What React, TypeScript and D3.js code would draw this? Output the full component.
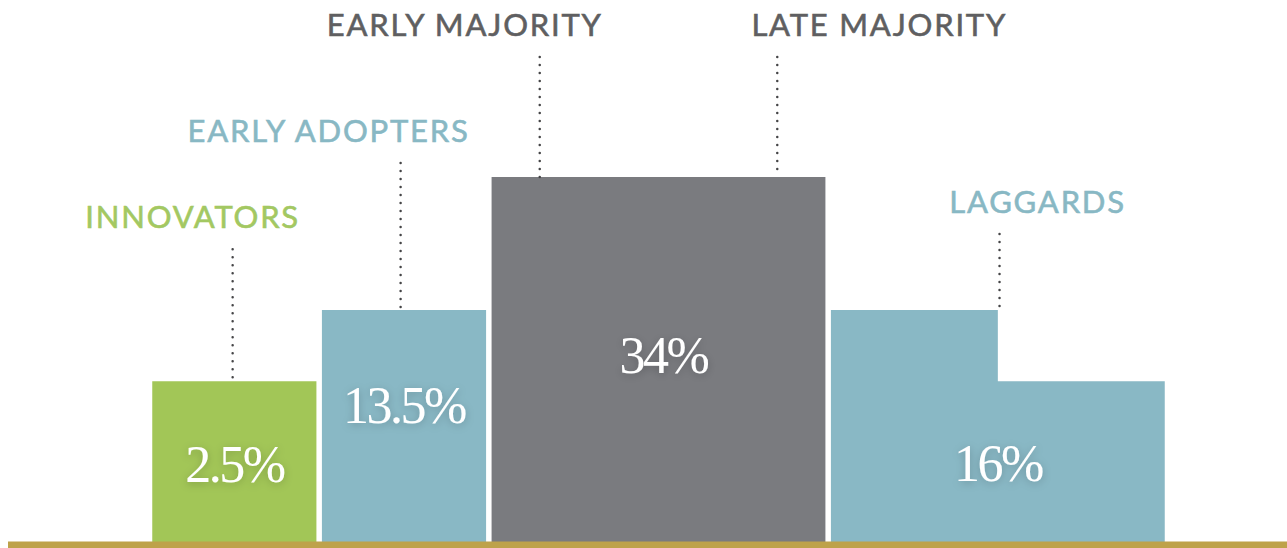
import * as d3 from "d3";

// diffusion of innovations — stylised step bars
const categories = ["INNOVATORS", "EARLY ADOPTERS", "EARLY MAJORITY", "LATE MAJORITY", "LAGGARDS"];
const categorySlot = [0, 1, 2, 3, 4];

const barGroups = ["innovators", "adopters", "majority", "laggards"];
const barLabels = ["2.5%", "13.5%", "34%", "16%"];

// each slot is one column of the step shape
const slotKeys = ["s1", "s2", "s3", "s4", "s5", "s6"];
const slotGroup = [0, 1, 2, 2, 3, 3];
const slotLevel = [2.5, 13.5, 34, 34, 13.5, 2.5];

const W = 1287;
const H = 548;
const base = 542;
const gap = 2.75;

const groupColor = ["#a2c657", "#89b8c5", "#7a7b7f", "#89b8c5"];
const labelColor = ["#a3c862", "#88b8c4", "#5f5f61", "#5f5f61", "#88b8c4"];

// layout tweaks (pixels / fractions)
const leaderFrac = [0.49, 0.48, 0.3, 0.7, 1.01];
const labelLift = [153, 168, 141, 141, 97];
const labelDx = [-40, -72, -75, 102, 38];
const valueFrac = [0.52, 0.41, 0.49, 0.66];

export default function App() {
  const x = d3.scaleBand().domain(slotKeys).range([149.5, 1167.5]).paddingInner(0);
  const y = d3.scaleLinear().domain([-22.3, 34]).range([base, 177]);
  const bw = x.bandwidth();

  const line = d3.line<[number, number]>();

  const shapes = barGroups.map((g, gi) => {
    const idx = slotGroup.map((s, i) => (s === gi ? i : -1)).filter((i) => i >= 0);
    const pts: [number, number][] = [];
    const x0 = (x(slotKeys[idx[0]]) as number) + gap;
    const x1 = (x(slotKeys[idx[idx.length - 1]]) as number) + bw - gap;
    pts.push([x0, base]);
    idx.forEach((i, k) => {
      const sx = k === 0 ? x0 : (x(slotKeys[i]) as number);
      const ex = k === idx.length - 1 ? x1 : (x(slotKeys[i]) as number) + bw;
      pts.push([sx, y(slotLevel[i])]);
      pts.push([ex, y(slotLevel[i])]);
    });
    pts.push([x1, base]);
    const topFirst = y(slotLevel[idx[0]]);
    return { g, gi, d: line(pts) + "Z", x0, x1, topFirst };
  });

  return (
    <svg width={W} height={H} style={{ position: "absolute", left: 0, top: 0 }}>
      <defs>
        <filter id="glow" x="-30%" y="-30%" width="160%" height="160%">
          <feDropShadow dx="0" dy="2" stdDeviation="4" floodColor="#000" floodOpacity="0.22" />
        </filter>
      </defs>

      {shapes.map((s) => (
        <path key={s.g} d={s.d} fill={groupColor[s.gi]} />
      ))}

      <rect x={8} y={base - 0.5} width={W - 8} height={H - base + 1} fill="#bea24a" />

      {shapes.map((s) => (
        <text
          key={"v" + s.g}
          x={(s.x0 + s.x1) / 2 + (s.gi === 2 ? 5 : 0)}
          y={s.topFirst + (base - s.topFirst) * valueFrac[s.gi]}
          dominantBaseline="central"
          textAnchor="middle"
          fill="#fff"
          fontFamily="'Liberation Serif', serif"
          fontSize={52}
          letterSpacing={-2.5}
          filter="url(#glow)"
        >
          {barLabels[s.gi]}
        </text>
      ))}

      {categories.map((c, i) => {
        const slot = categorySlot[i];
        const lx = (x(slotKeys[slot]) as number) + bw * leaderFrac[i];
        const barTop = y(slotLevel[slot]);
        const baseline = barTop - labelLift[i];
        const y0 = baseline + 21;
        const y1 = i === 2 ? barTop + 3 : barTop - 2;
        return (
          <g key={c}>
            <line
              x1={lx}
              x2={lx}
              y1={y0}
              y2={y1}
              stroke="#444446"
              strokeWidth={2.5}
              strokeLinecap="round"
              strokeDasharray="0 8"
            />
            <text
              x={lx + labelDx[i]}
              y={baseline}
              textAnchor="middle"
              fill={labelColor[i]}
              stroke={labelColor[i]}
              strokeWidth={0.6}
              fontFamily="Lato, sans-serif"
              fontSize={31}
              letterSpacing={1.8}
            >
              {c}
            </text>
          </g>
        );
      })}
    </svg>
  );
}
